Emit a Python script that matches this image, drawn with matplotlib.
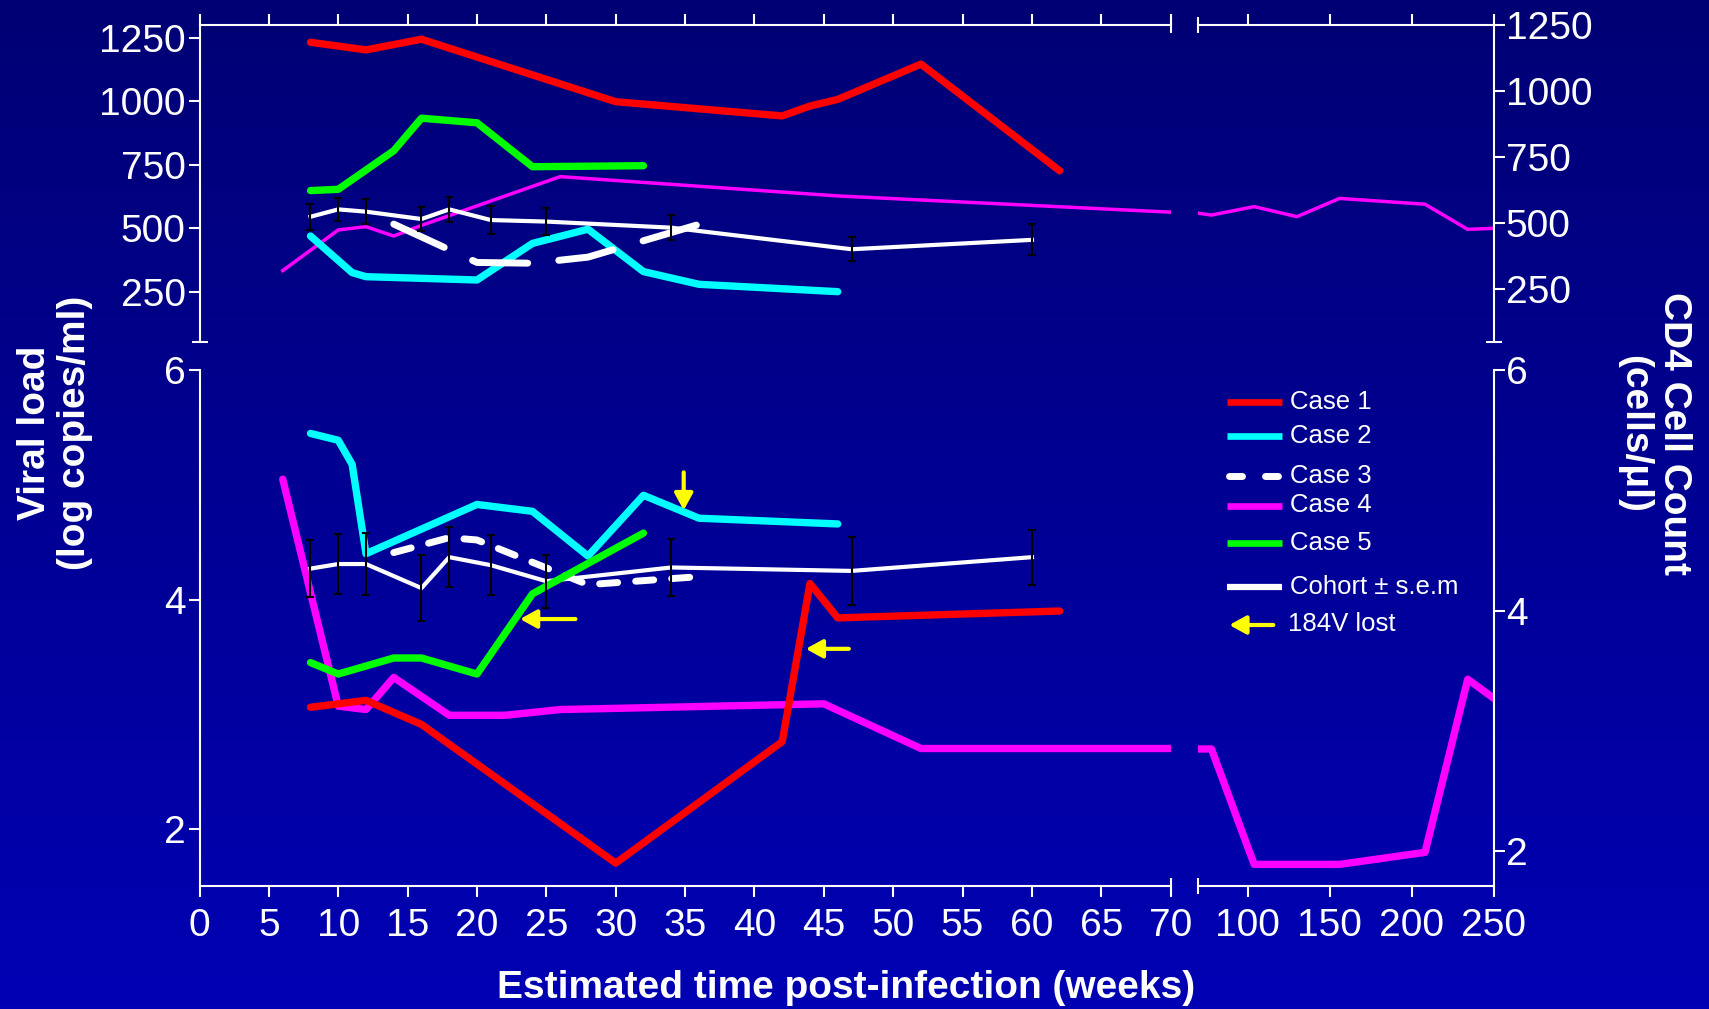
import matplotlib
matplotlib.use("Agg")
import matplotlib.pyplot as plt
import numpy as np
from matplotlib.lines import Line2D
from matplotlib.patches import FancyArrowPatch
from matplotlib.colors import LinearSegmentedColormap

plt.rcParams['font.family'] = ['Liberation Sans', 'DejaVu Sans']

# ---- Daten: CD4 (oben), Wochen 0-70 ----
case1_cd4_wk = [8, 12, 16, 30, 42, 44, 46, 52, 62]
case1_cd4 = [1232, 1202, 1244, 998, 942, 981, 1007, 1146, 726]
case2_cd4_wk = [8, 11, 12, 20, 24, 28, 32, 36, 46]
case2_cd4 = [469, 325, 309, 296, 440, 496, 329, 279, 250]
case3_cd4_wk = [14, 20, 24, 28, 36]
case3_cd4 = [516, 365, 362, 386, 515]
case4_cd4_wk = [6, 10, 12, 14, 16, 26, 46, 70]
case4_cd4 = [333, 493, 506, 469, 511, 703, 627, 563]
case5_cd4_wk = [8, 10, 14, 16, 20, 24, 32]
case5_cd4 = [648, 653, 805, 933, 915, 742, 746]
# Case 4 Langzeit (rechte Skala)
case4_cd4_late_wk = [70, 78, 104, 130, 156, 208, 234, 250]
case4_cd4_late = [538, 531, 563, 525, 594, 572, 477, 481]

# Kohorte +- s.e.m
cohort_wk = [8, 10, 12, 16, 18, 21, 25, 34, 47, 60]
cohort_cd4 = [545, 574, 565, 536, 574, 532, 526, 502, 417, 454]
cohort_cd4_sem = [51, 46, 49, 47, 48, 54, 53, 50, 48, 61]
cohort_vl = [4.27, 4.31, 4.31, 4.10, 4.37, 4.30, 4.16, 4.28, 4.25, 4.37]
cohort_vl_sem = [0.25, 0.26, 0.27, 0.29, 0.26, 0.26, 0.23, 0.25, 0.30, 0.24]

# ---- Daten: Viruslast (unten) ----
case1_vl_wk = [8, 12, 16, 30, 42, 44, 46, 62]
case1_vl = [3.06, 3.12, 2.91, 1.70, 2.76, 4.14, 3.84, 3.90]
case2_vl_wk = [8, 10, 11, 12, 20, 24, 28, 32, 36, 46]
case2_vl = [5.45, 5.39, 5.18, 4.40, 4.83, 4.77, 4.38, 4.91, 4.71, 4.66]
case3_vl_wk = [14, 18, 20, 28, 36]
case3_vl = [4.41, 4.54, 4.52, 4.13, 4.20]
case4_vl_wk = [6, 10, 12, 14, 18, 22, 26, 45, 52, 70]
case4_vl = [5.05, 3.07, 3.04, 3.32, 2.99, 2.99, 3.04, 3.09, 2.70, 2.70]
case4_vl_late_wk = [70, 78, 104, 156, 208, 234, 250]
case4_vl_late = [2.85, 2.85, 1.89, 1.89, 1.99, 3.43, 3.27]
case5_vl_wk = [8, 10, 14, 16, 20, 24, 32]
case5_vl = [3.45, 3.35, 3.49, 3.49, 3.35, 4.05, 4.58]

# 184V lost Pfeile: (Start Woche, Start Wert, Spitze Woche, Spitze Wert)
arrows_184v = [(27.1, 3.83, 23.1, 3.83),
               (34.9, 5.11, 34.9, 4.78),
               (46.8, 3.57, 43.7, 3.57)]

legend_labels = ["Case 1", "Case 2", "Case 3", "Case 4", "Case 5", "Cohort \u00b1 s.e.m", "184V lost"]
legend_colors = ["#FF0000", "#00FFFF", "white", "#FF00FF", "#00FF00", "white", "#FFFF00"]

RED, CYAN, MAG, GREEN, YEL = "#FF0000", "#00FFFF", "#FF00FF", "#00FF00", "#FFFF00"

W, H = 1709, 1009
fig = plt.figure(figsize=(W / 100, H / 100), dpi=100)
fig.patch.set_facecolor("#000074")

def fx(px):
    return px / W

def fy(py):
    return 1 - py / H

# Hintergrund Verlauf
bg = fig.add_axes([0, 0, 1, 1], zorder=-10)
grad = np.linspace(0, 1, 256).reshape(-1, 1)
cmap = LinearSegmentedColormap.from_list("bg", ["#000074", "#0000B4"])
bg.imshow(grad, aspect="auto", cmap=cmap, extent=[0, 1, 0, 1], origin="upper")
bg.set_axis_off()

xl0, xl1 = 199.5, 1170.7
xr0, xr1 = 1198.3, 1494
yt0, yt1 = 25, 341.7
yb0, yb1 = 370.4, 886

ax_tl = fig.add_axes([fx(xl0), fy(yt1), (xl1 - xl0) / W, (yt1 - yt0) / H])
ax_tr = fig.add_axes([fx(xr0), fy(yt1), (xr1 - xr0) / W, (yt1 - yt0) / H])
ax_bl = fig.add_axes([fx(xl0), fy(yb1), (xl1 - xl0) / W, (yb1 - yb0) / H])
ax_br = fig.add_axes([fx(xr0), fy(yb1), (xr1 - xr0) / W, (yb1 - yb0) / H])

for ax in [ax_tl, ax_tr, ax_bl, ax_br]:
    ax.set_facecolor("none")
    for s in ax.spines.values():
        s.set_visible(False)
        s.set_color("white")
        s.set_linewidth(1.5)
    ax.tick_params(axis="both", color="white", labelcolor="white", labelsize=28,
                   width=1.5, length=8, direction="out")

# oben links
ax_tl.set_xlim(0, 70)
ax_tl.set_ylim(53, 1300)
ax_tl.spines["top"].set_visible(True)
ax_tl.spines["left"].set_visible(True)
ax_tl.xaxis.tick_top()
ax_tl.set_xticks(range(0, 75, 5))
ax_tl.tick_params(axis="x", labeltop=False)
ax_tl.set_yticks([250, 500, 750, 1000, 1250])
ax_tl.tick_params(axis="y", pad=2)

# oben rechts
ax_tr.set_xlim(70, 250)
ax_tr.set_ylim(52, 1250)
ax_tr.spines["top"].set_visible(True)
ax_tr.spines["right"].set_visible(True)
ax_tr.xaxis.tick_top()
ax_tr.set_xticks([100, 150, 200, 250])
ax_tr.tick_params(axis="x", labeltop=False)
ax_tr.yaxis.tick_right()
ax_tr.set_yticks([250, 500, 750, 1000, 1250])
ax_tr.tick_params(axis="y", pad=0.5)

# unten links
ax_bl.set_xlim(0, 70)
ax_bl.set_ylim(1.5, 6)
ax_bl.spines["bottom"].set_visible(True)
ax_bl.spines["left"].set_visible(True)
ax_bl.set_xticks(range(0, 75, 5))
ax_bl.set_yticks([2, 4, 6])
ax_bl.tick_params(axis="x", pad=7.5)
ax_bl.tick_params(axis="y", pad=2)

# unten rechts
ax_br.set_xlim(70, 250)
ax_br.set_ylim(1.71, 6)
ax_br.spines["bottom"].set_visible(True)
ax_br.spines["right"].set_visible(True)
ax_br.set_xticks([100, 150, 200, 250])
ax_br.yaxis.tick_right()
ax_br.set_yticks([2, 4, 6])
ax_br.tick_params(axis="x", pad=7.5)
ax_br.tick_params(axis="y", pad=0.5)

# Achsenbruch-Markierungen und Endkappen
cap = dict(color="white", markersize=12, mew=1.5, clip_on=False, zorder=10)
ax_tl.plot([1], [1], marker="|", transform=ax_tl.transAxes, **cap)
ax_tr.plot([0], [1], marker="|", transform=ax_tr.transAxes, **cap)
ax_bl.plot([1], [0], marker="|", transform=ax_bl.transAxes, **cap)
ax_br.plot([0], [0], marker="|", transform=ax_br.transAxes, **cap)
ax_tl.plot([0], [0], marker="_", transform=ax_tl.transAxes, **cap)
ax_tr.plot([1], [0], marker="_", transform=ax_tr.transAxes, **cap)

thick = dict(lw=5.3, solid_capstyle="round", solid_joinstyle="round")

# CD4 oben
ax_tl.plot(case4_cd4_wk, case4_cd4, color=MAG, lw=2.5, zorder=2)
ax_tr.plot(case4_cd4_late_wk, case4_cd4_late, color=MAG, lw=2.5, zorder=2)
ax_tl.plot(case2_cd4_wk, case2_cd4, color=CYAN, zorder=3, **thick)
ax_tl.plot(case5_cd4_wk, case5_cd4, color=GREEN, zorder=3, **thick)
ax_tl.plot(case1_cd4_wk, case1_cd4, color=RED, zorder=3, **thick)
ax_tl.plot(cohort_wk, cohort_cd4, color="white", lw=3, zorder=4)
ax_tl.errorbar(cohort_wk, cohort_cd4, yerr=cohort_cd4_sem, fmt="none", ecolor="black",
               elinewidth=1.5, capsize=3, capthick=1.5, zorder=6)
ax_tl.plot(case3_cd4_wk, case3_cd4, color="white", lw=5, dashes=(8, 4.5),
           dash_capstyle="round", zorder=5)

# Viruslast unten
ax_bl.plot(case4_vl_wk, case4_vl, color=MAG, zorder=2, **thick)
ax_br.plot(case4_vl_late_wk, case4_vl_late, color=MAG, zorder=2, **thick)
ax_bl.plot(cohort_wk, cohort_vl, color="white", lw=3, zorder=3)
ax_bl.errorbar(cohort_wk, cohort_vl, yerr=cohort_vl_sem, fmt="none", ecolor="black",
               elinewidth=1.5, capsize=3, capthick=1.5, zorder=8)
ax_bl.plot(case3_vl_wk, case3_vl, color="white", lw=5, dashes=(2.6, 2.6),
           dash_capstyle="round", zorder=4)
ax_bl.plot(case2_vl_wk, case2_vl, color=CYAN, zorder=5, **thick)
ax_bl.plot(case5_vl_wk, case5_vl, color=GREEN, zorder=6, **thick)
ax_bl.plot(case1_vl_wk, case1_vl, color=RED, zorder=7, **thick)

arrow_style = dict(arrowstyle="-|>,head_length=0.4,head_width=0.22", color=YEL, lw=3,
                   mutation_scale=25, shrinkA=0, shrinkB=0)
for x0, y0, x1, y1 in arrows_184v:
    ax_bl.annotate("", xy=(x1, y1), xytext=(x0, y0), arrowprops=arrow_style, zorder=9)

# Legende (manuell)
legend_rows = [402, 436, 476, 505.5, 542.5, 586.5, 624]
lx0, lx1 = 1226.7, 1281.7
for lab, col, row in zip(legend_labels, legend_colors, legend_rows):
    if lab == "Case 3":
        for a, b in [(1228.5, 1241.5), (1265, 1278)]:
            fig.add_artist(Line2D([fx(a), fx(b)], [fy(row), fy(row)], color=col, lw=5,
                                  solid_capstyle="round", transform=fig.transFigure))
        tx = 1290
    elif lab == "184V lost":
        fig.add_artist(FancyArrowPatch((fx(1273.3), fy(row + 1)), (fx(1229.3), fy(row + 1)),
                                       transform=fig.transFigure, **arrow_style))
        tx = 1288
    else:
        lw = 4.8 if lab.startswith("Case") else 4.5
        fig.add_artist(Line2D([fx(lx0), fx(lx1)], [fy(row), fy(row)], color=col, lw=lw,
                              solid_capstyle="butt", transform=fig.transFigure))
        tx = 1290
    fig.text(fx(tx), fy(row), lab, color="white", fontsize=18.5, ha="left", va="center")

# Achsentitel
fig.text(fx(55), fy(433), "Viral load\n(log copies/ml)", color="white", fontsize=28,
         fontweight="bold", rotation=90, ha="center", va="center", linespacing=1.15,
         multialignment="center")
fig.text(fx(1654), fy(434), "CD4 Cell Count\n(cells/\u03bcl)", color="white", fontsize=28,
         fontweight="bold", rotation=270, ha="center", va="center", linespacing=1.15,
         multialignment="center")
fig.text(fx(846.5), fy(988), "Estimated time post-infection (weeks)", color="white",
         fontsize=28, fontweight="bold", ha="center", va="center")

fig.savefig("out.png", dpi=100, facecolor=fig.get_facecolor())
